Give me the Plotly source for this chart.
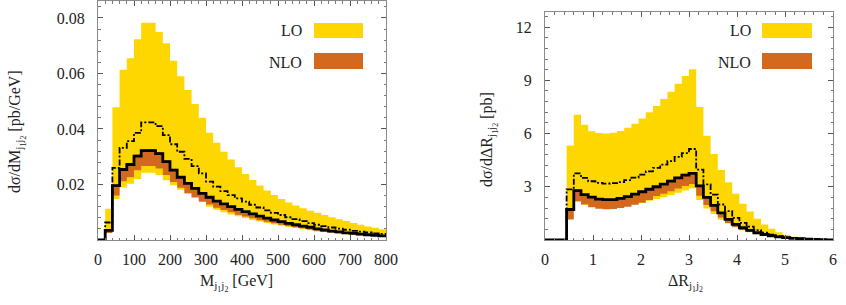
import plotly.graph_objects as go

# ---------------- data: left panel (M_j1j2, 40 bins of 20 GeV) ----------------
m_edges = [20 * i for i in range(41)]
m_lo_central = [0, 0.0063, 0.026, 0.0332, 0.0356, 0.0386, 0.0424, 0.0424, 0.041, 0.0378,
                0.0345, 0.0318, 0.0292, 0.0266, 0.0240, 0.0210, 0.0192, 0.0176, 0.0162, 0.0150,
                0.0138, 0.0127, 0.0117, 0.0107, 0.0098, 0.0090, 0.0082, 0.0075, 0.0068, 0.0061,
                0.0055, 0.0050, 0.0045, 0.0041, 0.0037, 0.0033, 0.0030, 0.0027, 0.0024, 0.0022]
m_lo_high = [0, 0.0113, 0.0478, 0.0613, 0.0655, 0.0723, 0.0783, 0.0783, 0.0749, 0.0709,
             0.0646, 0.0590, 0.0540, 0.0490, 0.0440, 0.0386, 0.0350, 0.0318, 0.0290, 0.0262,
             0.0238, 0.0216, 0.0196, 0.0178, 0.0162, 0.0148, 0.0135, 0.0124, 0.0114, 0.0105,
             0.0098, 0.0090, 0.0082, 0.0075, 0.0068, 0.0061, 0.0055, 0.0049, 0.0044, 0.0039]
m_lo_low = [0, 0.0036, 0.0148, 0.0189, 0.0203, 0.0220, 0.0242, 0.0242, 0.0234, 0.0215,
            0.0197, 0.0181, 0.0166, 0.0152, 0.0137, 0.0120, 0.0109, 0.0100, 0.0092, 0.0086,
            0.0079, 0.0072, 0.0067, 0.0061, 0.0056, 0.0051, 0.0047, 0.0043, 0.0039, 0.0035,
            0.0031, 0.0029, 0.0026, 0.0023, 0.0021, 0.0019, 0.0017, 0.0015, 0.0014, 0.0013]
m_nlo_central = [0, 0.0035, 0.0196, 0.0254, 0.0272, 0.0302, 0.0322, 0.0322, 0.0311, 0.0282,
                 0.0252, 0.0226, 0.0204, 0.0186, 0.0168, 0.0154, 0.0140, 0.0130, 0.0120, 0.0110,
                 0.0102, 0.0094, 0.0086, 0.0079, 0.0072, 0.0066, 0.0060, 0.0055, 0.0050, 0.0046,
                 0.0040, 0.0036, 0.0032, 0.0029, 0.0026, 0.0024, 0.0021, 0.0019, 0.0017, 0.0015]
m_nlo_high = [0, 0.0036, 0.0200, 0.0259, 0.0277, 0.0308, 0.0328, 0.0328, 0.0317, 0.0288,
              0.0257, 0.0231, 0.0208, 0.0190, 0.0171, 0.0157, 0.0143, 0.0133, 0.0122, 0.0112,
              0.0104, 0.0096, 0.0088, 0.0081, 0.0073, 0.0067, 0.0061, 0.0056, 0.0051, 0.0047,
              0.0041, 0.0037, 0.0033, 0.0030, 0.0027, 0.0024, 0.0021, 0.0019, 0.0017, 0.0015]
m_nlo_low = [0, 0.0025, 0.0160, 0.0212, 0.0226, 0.0251, 0.0267, 0.0267, 0.0258, 0.0234,
             0.0209, 0.0188, 0.0169, 0.0154, 0.0139, 0.0128, 0.0116, 0.0108, 0.0100, 0.0091,
             0.0085, 0.0078, 0.0071, 0.0066, 0.0060, 0.0055, 0.0050, 0.0046, 0.0042, 0.0038,
             0.0033, 0.0030, 0.0027, 0.0024, 0.0022, 0.0020, 0.0017, 0.0016, 0.0014, 0.0012]

# ---------------- data: right panel (Delta R_j1j2, 40 bins of 0.15) ----------------
r_edges = [round(0.15 * i, 2) for i in range(41)]
r_lo_central = [0, 0, 0, 2.85, 3.75, 3.5, 3.31, 3.22, 3.18, 3.2,
                3.26, 3.37, 3.52, 3.69, 3.87, 4.06, 4.25, 4.44, 4.68, 4.9,
                5.13, 3.97, 3.13, 2.56, 2.0, 1.63, 1.25, 0.97, 0.75, 0.56,
                0.41, 0.3, 0.22, 0.15, 0.11, 0.07, 0.04, 0.03, 0.02, 0.01]
r_lo_high = [0, 0, 0, 5.32, 7.06, 6.5, 6.13, 6.03, 6.0, 6.05,
             6.15, 6.32, 6.55, 6.85, 7.2, 7.55, 7.95, 8.35, 8.8, 9.25,
             9.63, 7.5, 5.88, 4.85, 3.95, 3.25, 2.6, 2.05, 1.6, 1.2,
             0.88, 0.63, 0.43, 0.29, 0.19, 0.12, 0.08, 0.05, 0.03, 0.02]
r_lo_low = [0, 0, 0, 1.62, 2.14, 2.0, 1.89, 1.84, 1.81, 1.82,
            1.86, 1.92, 2.01, 2.1, 2.21, 2.31, 2.42, 2.53, 2.67, 2.79,
            2.92, 2.26, 1.78, 1.46, 1.14, 0.93, 0.71, 0.55, 0.43, 0.32,
            0.23, 0.17, 0.13, 0.09, 0.06, 0.04, 0.02, 0.02, 0.01, 0.01]
r_nlo_central = [0, 0, 0, 1.72, 2.78, 2.56, 2.42, 2.3, 2.28, 2.28,
                 2.35, 2.45, 2.58, 2.72, 2.86, 3.0, 3.15, 3.32, 3.5, 3.66,
                 3.75, 3.05, 2.4, 1.95, 1.53, 1.16, 0.88, 0.69, 0.54, 0.41,
                 0.31, 0.24, 0.18, 0.13, 0.09, 0.07, 0.05, 0.03, 0.02, 0.01]
r_nlo_high = [0, 0, 0, 1.76, 2.84, 2.61, 2.47, 2.35, 2.33, 2.33,
              2.4, 2.5, 2.63, 2.77, 2.92, 3.06, 3.21, 3.39, 3.57, 3.73,
              3.83, 3.11, 2.45, 1.99, 1.56, 1.18, 0.9, 0.7, 0.55, 0.42,
              0.32, 0.24, 0.18, 0.13, 0.09, 0.07, 0.05, 0.03, 0.02, 0.01]
r_nlo_low = [0, 0, 0, 1.15, 2.2, 2.0, 1.85, 1.76, 1.74, 1.75,
             1.8, 1.88, 1.98, 2.1, 2.25, 2.48, 2.6, 2.75, 2.9, 3.04,
             3.15, 2.5, 1.97, 1.62, 1.27, 0.96, 0.73, 0.57, 0.45, 0.34,
             0.26, 0.2, 0.15, 0.11, 0.07, 0.06, 0.04, 0.02, 0.02, 0.01]

m_xticks = [0, 100, 200, 300, 400, 500, 600, 700, 800]
m_yticks = [0.02, 0.04, 0.06, 0.08]
r_xticks = [0, 1, 2, 3, 4, 5, 6]
r_yticks = [3, 6, 9, 12]

GOLD = "#FFD700"
CHOC = "#D2691E"
FONT = "Liberation Serif"
FS = 16
W, H = 846, 305

fig = go.Figure()


def closed(vals):
    return list(vals) + [vals[-1]]


def add_panel(edges, lo_lo, lo_hi, lo_c, nlo_lo, nlo_hi, nlo_c, xa, ya):
    common = dict(x=edges, xaxis=xa, yaxis=ya, mode="lines", line_shape="hv",
                  showlegend=False, hoverinfo="skip")
    fig.add_trace(go.Scatter(y=closed(lo_lo), line=dict(width=0, color=GOLD), **common))
    fig.add_trace(go.Scatter(y=closed(lo_hi), line=dict(width=0, color=GOLD),
                             fill="tonexty", fillcolor=GOLD, **common))
    fig.add_trace(go.Scatter(y=closed(nlo_lo), line=dict(width=0, color=CHOC), **common))
    fig.add_trace(go.Scatter(y=closed(nlo_hi), line=dict(width=0, color=CHOC),
                             fill="tonexty", fillcolor=CHOC, **common))
    fig.add_trace(go.Scatter(y=closed(lo_c), line=dict(width=1.8, color="black",
                                                       dash="6px,2px,2px,2px"), **common))
    fig.add_trace(go.Scatter(y=closed(nlo_c), line=dict(width=2.8, color="black"), **common))


add_panel(m_edges, m_lo_low, m_lo_high, m_lo_central, m_nlo_low, m_nlo_high,
          m_nlo_central, "x", "y")
add_panel(r_edges, r_lo_low, r_lo_high, r_lo_central, r_nlo_low, r_nlo_high,
          r_nlo_central, "x2", "y2")

axis_common = dict(showgrid=False, zeroline=False, showline=True, linecolor="#8a8a8a",
                   linewidth=1, mirror="allticks", ticks="inside", ticklen=5,
                   tickcolor="#555555", tickwidth=1, automargin=False,
                   tickfont=dict(family=FONT, size=FS, color="#222222"))
minor_common = dict(ticks="inside", ticklen=2.5, tickcolor="#777777")

fig.update_layout(
    width=W, height=H, margin=dict(l=0, r=0, t=0, b=0, autoexpand=False),
    paper_bgcolor="white", plot_bgcolor="white",
    xaxis=dict(domain=[98 / W, 386 / W], range=[0, 800], tickmode="array",
               tickvals=m_xticks, ticktext=[str(v) for v in m_xticks],
               minor=dict(dtick=20, tick0=0, **minor_common),
               ticklabelstandoff=5, anchor="y", **axis_common),
    yaxis=dict(domain=[1 - 240 / H, 1 - 1 / H], range=[0, 0.0861], tickmode="array",
               tickvals=m_yticks, ticktext=["0.02", "0.04", "0.06", "0.08"],
               minor=dict(dtick=0.004, tick0=0, **minor_common),
               ticklabelstandoff=9, anchor="x", **axis_common),
    xaxis2=dict(domain=[545 / W, 833 / W], range=[0, 6], tickmode="array",
                tickvals=r_xticks, ticktext=[str(v) for v in r_xticks],
                minor=dict(dtick=0.2, tick0=0, **minor_common),
                ticklabelstandoff=5, anchor="y2", **axis_common),
    yaxis2=dict(domain=[1 - 240 / H, 1 - 12 / H], range=[0, 12.85], tickmode="array",
                tickvals=r_yticks, ticktext=[str(v) for v in r_yticks],
                minor=dict(dtick=0.6, tick0=0, **minor_common),
                ticklabelstandoff=9, anchor="x2", **axis_common),
)

tfont = dict(family=FONT, size=FS, color="#222222")
sub = "<sub>j<sub>1</sub>j<sub>2</sub></sub>"
annots = [
    dict(text="dσ/dM" + sub + " [pb/GeV]", x=17 / W, y=1 - 132 / H, textangle=-90),
    dict(text="M" + sub + " [GeV]", x=236 / W, y=1 - 283 / H, textangle=0),
    dict(text="dσ/dΔR" + sub + " [pb]", x=489 / W, y=1 - 140 / H, textangle=-90),
    dict(text="ΔR" + sub, x=685 / W, y=1 - 283 / H, textangle=0),
]
for a in annots:
    fig.add_annotation(xref="paper", yref="paper", showarrow=False, font=tfont,
                       xanchor="center", yanchor="middle", **a)

# legends
for x_text, x0, x1 in [(304, 314, 363), (753, 762, 812)]:
    for label, color, yc, y0, y1 in [("LO", GOLD, 31, 23, 38), ("NLO", CHOC, 62, 53, 69)]:
        fig.add_annotation(xref="paper", yref="paper", showarrow=False, font=tfont,
                           text=label, x=x_text / W, y=1 - yc / H,
                           xanchor="right", yanchor="middle")
        fig.add_shape(type="rect", xref="paper", yref="paper",
                      x0=x0 / W, x1=x1 / W, y0=1 - y1 / H, y1=1 - y0 / H,
                      fillcolor=color, line=dict(width=0))

fig.write_html("out.html", config={"displayModeBar": False},
               post_script="document.body.style.margin='0';document.body.style.padding='0';")
